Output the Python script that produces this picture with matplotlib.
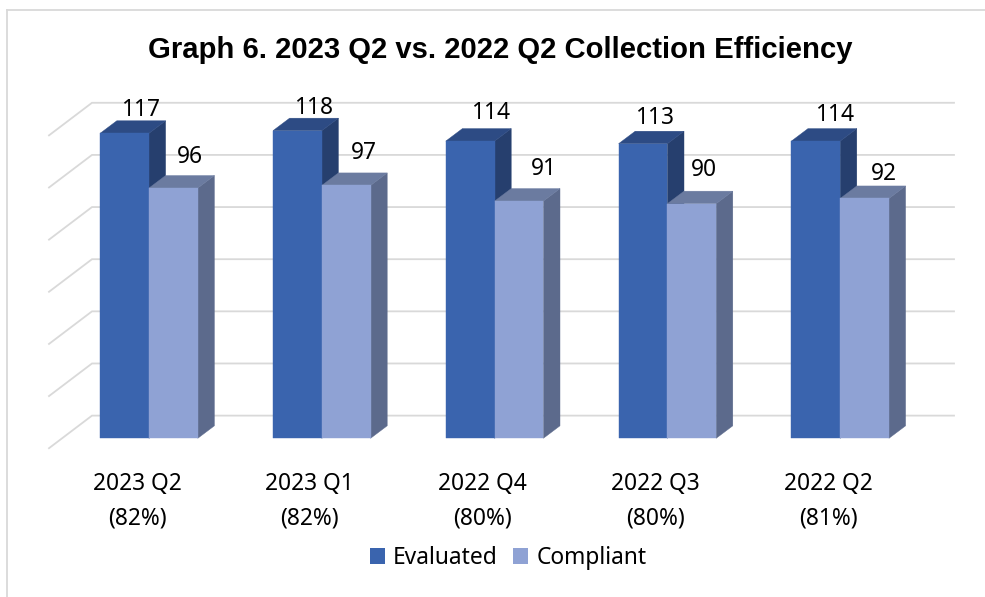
import matplotlib
matplotlib.use("Agg")
import matplotlib.pyplot as plt
from matplotlib.patches import Polygon, Patch

title = "Graph 6. 2023 Q2 vs. 2022 Q2 Collection Efficiency"
categories = ["2023 Q2\n(82%)", "2023 Q1\n(82%)", "2022 Q4\n(80%)", "2022 Q3\n(80%)", "2022 Q2\n(81%)"]
evaluated = [117, 118, 114, 113, 114]
compliant = [96, 97, 91, 90, 92]
grid_values = [0, 20, 40, 60, 80, 100, 120]

W, H = 985, 597
PITCH = 172.8      # px per category
UNIT = 2.607       # px per value unit
X0, Y0 = 149.0, 438.3  # pixel position of category 0 / value 0

fig = plt.figure(figsize=(W / 100, H / 100), dpi=100, facecolor="white")
ax = fig.add_axes([0, 0, 1, 1])
ax.set_xlim(-X0 / PITCH, (W - X0) / PITCH)
ax.set_ylim((Y0 - H) / UNIT, Y0 / UNIT)
ax.axis("off")

bar_w = 48.8 / PITCH
dx, dy = 16.6 / PITCH, 12.5 / UNIT
back_dy, front_dy = 8.7, -3.8
wall_front_x, wall_back_x = (49 - X0) / PITCH, (92 - X0) / PITCH
wall_right_x = (954 - X0) / PITCH
GRID = "#D9D9D9"

# chart frame
ax.plot([(7 - X0) / PITCH] * 2, [(Y0 - H) / UNIT, (Y0 - 10) / UNIT], color=GRID, lw=1.3, zorder=1)
ax.plot([(7 - X0) / PITCH, (W - X0) / PITCH], [(Y0 - 10) / UNIT] * 2, color=GRID, lw=1.3, zorder=1)

# 3-D back wall grid
for v in grid_values:
    ax.plot([wall_front_x, wall_back_x, wall_right_x],
            [v + front_dy, v + back_dy, v + back_dy],
            color=GRID, lw=1.3, zorder=2, solid_joinstyle="miter")


def bar3d(x, v, front, top, side):
    kw = dict(closed=True, lw=0.3, zorder=3)
    ax.add_patch(Polygon([(x + bar_w, 0), (x + bar_w + dx, dy), (x + bar_w + dx, v + dy), (x + bar_w, v)],
                         facecolor=side, edgecolor=side, **kw))
    ax.add_patch(Polygon([(x, v), (x + dx, v + dy), (x + bar_w + dx, v + dy), (x + bar_w, v)],
                         facecolor=top, edgecolor=top, **kw))
    ax.add_patch(Polygon([(x, 0), (x, v), (x + bar_w, v), (x + bar_w, 0)],
                         facecolor=front, edgecolor=front, **kw))


for i, (e, c) in enumerate(zip(evaluated, compliant)):
    bar3d(i - bar_w, e, "#3A64AE", "#2D4B84", "#263F6E")
    bar3d(i, c, "#8FA2D4", "#6B7BA0", "#5C6A8C")

LABEL_FONT = ["Noto Sans", "DejaVu Sans"]
FS = 16.4
eval_label_px = [(141, 110), (314, 108), (491, 113), (655, 118), (835, 115)]
comp_label_px = [(190, 157), (364, 153), (544, 169), (704, 170), (884, 174)]
for vals, pos in ((evaluated, eval_label_px), (compliant, comp_label_px)):
    for v, (px, py) in zip(vals, pos):
        ax.text((px - X0) / PITCH, (Y0 - py) / UNIT, str(v), ha="center", va="center",
                fontsize=FS, family=LABEL_FONT, color="black", zorder=5)

for i, c in enumerate(categories):
    ax.text(i + (137 - X0) / PITCH, (Y0 - 501) / UNIT, c, ha="center", va="center",
            fontsize=FS, family=LABEL_FONT, color="black", linespacing=1.59, zorder=5)

ax.text((500 - X0) / PITCH, (Y0 - 49.5) / UNIT, title, ha="center", va="center",
        fontsize=21.1, fontweight="bold", family=["Liberation Sans", "DejaVu Sans"], color="black")

handles = [Patch(facecolor="#3A64AE", label="Evaluated"), Patch(facecolor="#8FA2D4", label="Compliant")]
leg = ax.legend(handles=handles, loc="center", bbox_to_anchor=(508 / W, 1 - 558 / H),
                bbox_transform=fig.transFigure, ncol=2, frameon=False,
                prop={"family": LABEL_FONT, "size": FS},
                handlelength=0.66, handleheight=0.66, handletextpad=0.35, columnspacing=0.7)

fig.savefig("out.png", dpi=100, facecolor="white")
